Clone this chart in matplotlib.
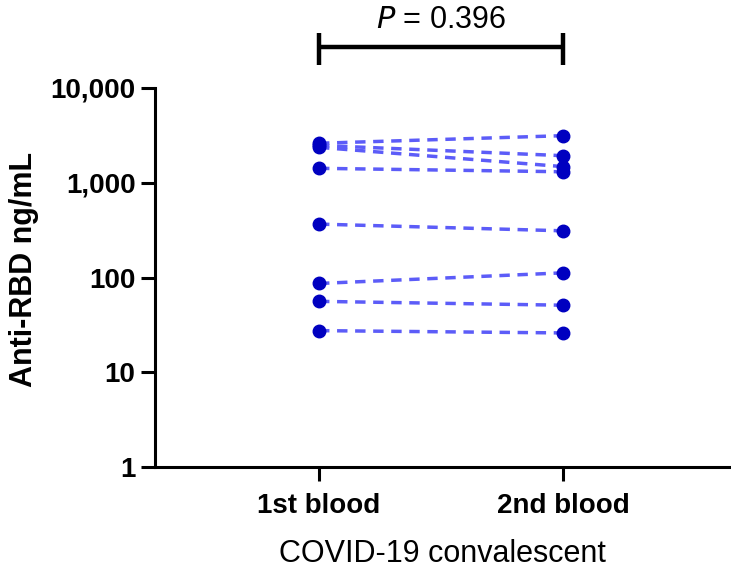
import numpy as np
import matplotlib
matplotlib.use('Agg')
import matplotlib.pyplot as plt

plt.rcParams['font.family'] = ['Liberation Sans', 'DejaVu Sans']

# paired anti-RBD values (ng/mL)
groups = ['1st blood', '2nd blood']
first_blood = [2610, 2480, 2365, 1420, 366, 86.5, 56, 27.5]
second_blood = [3140, 1930, 1480, 1306, 311, 112, 51, 26]
y_ticks = [1, 10, 100, 1000, 10000]
y_tick_labels = ['1', '10', '100', '1,000', '10,000']
p_text = '$\\mathit{P}$ = 0.396'

line_color = '#5c5cf8'
dot_color = '#0000c0'

fig = plt.figure(figsize=(7.31, 5.69), dpi=100)
ax = fig.add_axes([155 / 731, 102 / 569, 575 / 731, 379 / 569])

for a, b in zip(first_blood, second_blood):
    ax.plot([0, 1], [a, b], color=line_color, lw=2.5, ls=(0, (3, 2.2)),
            zorder=2)
    ax.plot([0, 1], [a, b], ls='none', marker='o', ms=9,
            color=dot_color, zorder=3)

ax.set_yscale('log')
ax.set_ylim(1, 10000)
ax.set_xlim(-0.672, 1.684)
ax.set_yticks(y_ticks)
ax.set_yticklabels(y_tick_labels)
ax.yaxis.set_minor_locator(matplotlib.ticker.NullLocator())
ax.set_xticks([0, 1])
ax.set_xticklabels(groups)

for lab in ax.get_xticklabels() + ax.get_yticklabels():
    lab.set_fontweight('bold')
    lab.set_fontsize(20)

ax.tick_params(axis='both', width=2.2, length=10, color='black')
ax.tick_params(axis='y', pad=4)
ax.tick_params(axis='x', pad=9)

for side in ['top', 'right']:
    ax.spines[side].set_visible(False)
for side in ['left', 'bottom']:
    ax.spines[side].set_linewidth(2.2)

ax.set_ylabel('Anti-RBD ng/mL', fontsize=22, fontweight='bold')
ax.yaxis.set_label_coords(-0.201, 0.52)
ax.set_xlabel('COVID-19 convalescent', fontsize=22, labelpad=14)

# significance bracket above the groups
tr = ax.get_xaxis_transform()
ax.plot([0, 1], [1.108, 1.108], color='black', lw=3.2, transform=tr,
        clip_on=False, solid_capstyle='butt')
for x in [0, 1]:
    ax.plot([x, x], [1.061, 1.145], color='black', lw=3.2, transform=tr,
            clip_on=False, solid_capstyle='butt')
ax.text(0.5, 1.18, p_text, transform=tr, ha='center', va='center',
        fontsize=22)

fig.savefig('out.png', dpi=100)
